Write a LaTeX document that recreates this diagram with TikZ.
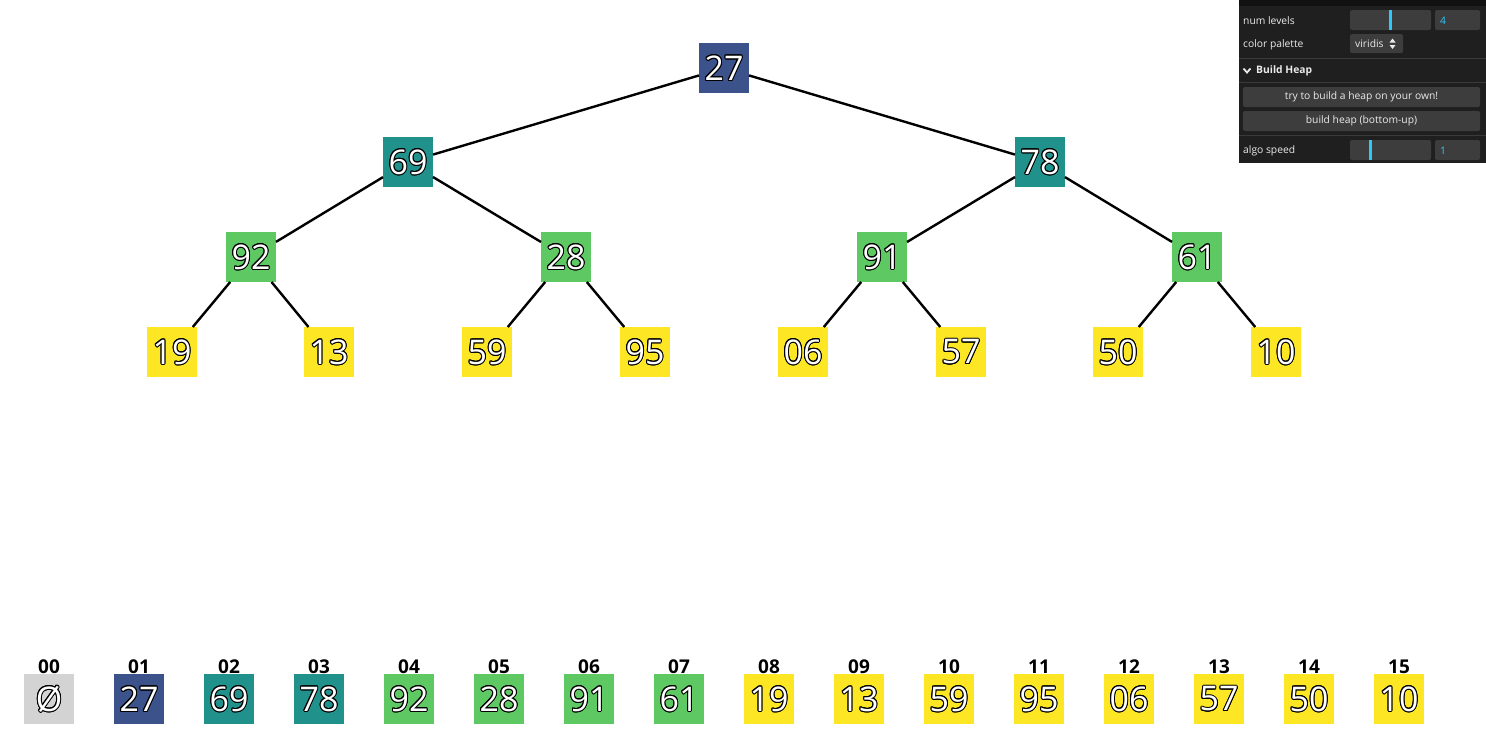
\documentclass[tikz,border=0pt]{standalone}
\usepackage{fontspec}
\setmainfont{Open Sans}
\definecolor{vA}{HTML}{3B528B}
\definecolor{vB}{HTML}{21918C}
\definecolor{vC}{HTML}{5EC962}
\definecolor{vD}{HTML}{FDE725}
\definecolor{vN}{HTML}{D3D3D3}
\definecolor{pbg}{HTML}{1F1F1F}
\definecolor{ptitle}{HTML}{111111}
\definecolor{pwid}{HTML}{3D3D3D}
\definecolor{psep}{HTML}{3A3A3A}
\definecolor{ptext}{HTML}{EBEBEB}
\definecolor{pnum}{HTML}{2CC9FF}
\newcommand\olsh[3]{\rlap{\kern#1\raise#2\hbox{#3}}}
\newcommand\olt[1]{{\color{black}%
\olsh{1pt}{0pt}{#1}\olsh{-1pt}{0pt}{#1}\olsh{0pt}{1pt}{#1}\olsh{0pt}{-1pt}{#1}%
\olsh{.7pt}{.7pt}{#1}\olsh{-.7pt}{.7pt}{#1}\olsh{.7pt}{-.7pt}{#1}\olsh{-.7pt}{-.7pt}{#1}%
\olsh{.92pt}{.38pt}{#1}\olsh{-.92pt}{.38pt}{#1}\olsh{.92pt}{-.38pt}{#1}\olsh{-.92pt}{-.38pt}{#1}%
\olsh{.38pt}{.92pt}{#1}\olsh{-.38pt}{.92pt}{#1}\olsh{.38pt}{-.92pt}{#1}\olsh{-.38pt}{-.92pt}{#1}}%
\textcolor{white}{#1}}
\begin{document}
\begin{tikzpicture}[x=1pt,y=-1pt,
  hbox/.style={minimum size=50pt,inner sep=0pt,outer sep=0pt,font=\fontsize{34}{34}\selectfont},
  edge/.style={line width=2.4pt,black},
  idx/.style={inner sep=0pt,font=\fontsize{19}{19}\selectfont\bfseries},
  ptxt/.style={inner sep=0pt,anchor=west,text=ptext,font=\fontsize{10.3}{10}\selectfont},
  pwidget/.style={fill=pwid,rounded corners=2pt}]
\useasboundingbox (0,0) rectangle (1486,745);
% tree nodes
\node[hbox,fill=vA] (t1) at (724,68) {\olt{27}};
\node[hbox,fill=vB] (t2) at (408,162) {\olt{69}};
\node[hbox,fill=vB] (t3) at (1040,162) {\olt{78}};
\node[hbox,fill=vC] (t4) at (251,257) {\olt{92}};
\node[hbox,fill=vC] (t5) at (566,257) {\olt{28}};
\node[hbox,fill=vC] (t6) at (882,257) {\olt{91}};
\node[hbox,fill=vC] (t7) at (1197,257) {\olt{61}};
\node[hbox,fill=vD] (t8) at (172,352) {\olt{19}};
\node[hbox,fill=vD] (t9) at (329,352) {\olt{13}};
\node[hbox,fill=vD] (t10) at (487,352) {\olt{59}};
\node[hbox,fill=vD] (t11) at (645,352) {\olt{95}};
\node[hbox,fill=vD] (t12) at (803,352) {\olt{06}};
\node[hbox,fill=vD] (t13) at (961,352) {\olt{57}};
\node[hbox,fill=vD] (t14) at (1118,352) {\olt{50}};
\node[hbox,fill=vD] (t15) at (1276,352) {\olt{10}};
% edges
\draw[edge] (t1) -- (t2);
\draw[edge] (t1) -- (t3);
\draw[edge] (t2) -- (t4);
\draw[edge] (t2) -- (t5);
\draw[edge] (t3) -- (t6);
\draw[edge] (t3) -- (t7);
\draw[edge] (t4) -- (t8);
\draw[edge] (t4) -- (t9);
\draw[edge] (t5) -- (t10);
\draw[edge] (t5) -- (t11);
\draw[edge] (t6) -- (t12);
\draw[edge] (t6) -- (t13);
\draw[edge] (t7) -- (t14);
\draw[edge] (t7) -- (t15);
% array
\foreach \i/\v/\c in {0/Ø/vN,1/27/vA,2/69/vB,3/78/vB,4/92/vC,5/28/vC,6/91/vC,7/61/vC,
  8/19/vD,9/13/vD,10/59/vD,11/95/vD,12/06/vD,13/57/vD,14/50/vD,15/10/vD}{
  \pgfmathtruncatemacro{\xx}{49+90*\i}
  \node[hbox,fill=\c] (a\i) at (\xx,699) {\olt{\v}};
  \ifnum\i<10 \def\lab{0\i}\else\def\lab{\i}\fi
  \node[idx] (l\i) at (\xx,667) {\lab};
}
% panel
\fill[pbg] (1239,0) rectangle (1486,163);
\fill[ptitle] (1239,0) rectangle (1486,6);
\node[ptxt] (p1) at (1243,20.5) {num levels};
\fill[pwidget] (1350,10) rectangle (1431,30);
\fill[pnum] (1389,10) rectangle (1391.5,30);
\fill[pwidget] (1435,10) rectangle (1480,30);
\node[ptxt,text=pnum] (p1v) at (1440,20.5) {4};
\node[ptxt] (p2) at (1243,44.5) {color palette};
\fill[pwidget] (1350,34) rectangle (1403,53);
\node[ptxt] (p2v) at (1355,44) {viridis};
\fill[ptext] (1389.5,42.5) -- (1395.5,42.5) -- (1392.5,38.5) -- cycle;
\fill[ptext] (1389.5,45) -- (1395.5,45) -- (1392.5,49) -- cycle;
\draw[psep,line width=1pt] (1239,58.5) -- (1486,58.5);
\draw[ptext,line width=1.8pt] (1243.5,68.5) -- (1247,72.5) -- (1250.5,68.5);
\node[ptxt,font=\fontsize{10.3}{10}\selectfont\bfseries] (p3) at (1256,71) {Build Heap};
\draw[psep,line width=1pt] (1239,82.5) -- (1486,82.5);
\fill[pwidget] (1243,87) rectangle (1480,107);
\node[inner sep=0pt,text=ptext,font=\fontsize{10.3}{10}\selectfont] (b1) at (1361.5,97) {try to build a heap on your own!};
\fill[pwidget] (1243,111) rectangle (1480,131);
\node[inner sep=0pt,text=ptext,font=\fontsize{10.3}{10}\selectfont] (b2) at (1361.5,121) {build heap (bottom-up)};
\draw[psep,line width=1pt] (1239,135.5) -- (1486,135.5);
\node[ptxt] (p4) at (1243,150.5) {algo speed};
\fill[pwidget] (1350,140) rectangle (1431,160);
\fill[pnum] (1369,140) rectangle (1371.5,160);
\fill[pwidget] (1435,140) rectangle (1480,160);
\node[ptxt,text=pnum] (p4v) at (1440,150.5) {1};
\end{tikzpicture}
\end{document}
